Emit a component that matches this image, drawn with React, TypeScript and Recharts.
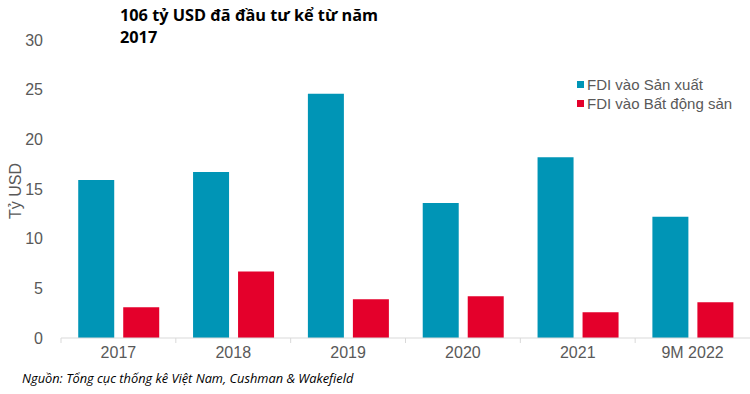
import { BarChart, Bar, XAxis, YAxis, Legend } from 'recharts';

const years = ['2017', '2018', '2019', '2020', '2021', '9M 2022'];
const sanXuat = [15.9, 16.7, 24.6, 13.6, 18.2, 12.2];
const batDongSan = [3.1, 6.7, 3.9, 4.2, 2.6, 3.6];
const yTicks = [0, 5, 10, 15, 20, 25, 30];

const series = [
  { key: 'sx', name: 'FDI vào Sản xuất', color: '#0095B6' },
  { key: 'bds', name: 'FDI vào Bất động sản', color: '#E4002B' },
];

const data = years.map((y, i) => ({ year: y, sx: sanXuat[i], bds: batDongSan[i] }));

const W = 750;
const H = 394;
const LEFT = 61;
const BAND = (W - LEFT) / years.length;
const FONT = '"Liberation Sans", Arial, sans-serif';

// category label + a small tick mark on the left boundary of each band
const XTick = (props: any) => {
  const { x, y, payload } = props;
  const bx = x - BAND / 2;
  return (
    <g>
      <line x1={bx} y1={y - 8} x2={bx} y2={y - 3} stroke="#d9d9d9" />
      <text x={x} y={y + 12} textAnchor="middle" fill="#595959" fontSize={16} fontFamily={FONT}>
        {payload.value}
      </text>
    </g>
  );
};

const LegendBox = () => (
  <div style={{ fontFamily: FONT, fontSize: 15, lineHeight: '19px', color: '#595959' }}>
    {series.map(s => (
      <div key={s.key} style={{ display: 'flex', alignItems: 'center', whiteSpace: 'nowrap' }}>
        <span style={{ display: 'inline-block', width: 7, height: 7, background: s.color, marginRight: 3 }} />
        {s.name}
      </div>
    ))}
  </div>
);

export default function App() {
  return (
    <div style={{ position: 'absolute', left: 0, top: 0, width: W, height: H, background: '#fff' }}>
      <div style={{
        position: 'absolute', left: 120, top: 4, fontFamily: '"Open Sans", sans-serif',
        fontWeight: 700, fontSize: 16.3, lineHeight: '22px', color: '#000', width: 300,
      }}>
        106 tỷ USD đã đầu tư kể từ năm<br />2017
      </div>
      <BarChart width={W} height={H} data={data}
        margin={{ top: 40, right: 0, left: 21, bottom: 26 }}
        barCategoryGap="15%" barGap={9}>
        <XAxis dataKey="year" height={30} axisLine={{ stroke: '#d9d9d9' }} tickLine={false}
          tick={<XTick />} interval={0} />
        <YAxis domain={[0, 30]} ticks={yTicks} width={40} axisLine={false} tickLine={false}
          tick={{ fill: '#595959', fontSize: 16, fontFamily: FONT }} tickMargin={12}
          label={{ value: 'Tỷ USD', angle: -90, position: 'insideLeft', offset: -6, dy: 30,
            style: { fill: '#595959', fontSize: 16, fontFamily: FONT } }} />
        <Legend layout="vertical" align="center" verticalAlign="middle" content={<LegendBox />}
          wrapperStyle={{ position: 'absolute', top: 75, left: 577, width: 180 }} />
        {series.map(s => (
          <Bar key={s.key} dataKey={s.key} name={s.name} fill={s.color} isAnimationActive={false} />
        ))}
      </BarChart>
      <div style={{
        position: 'absolute', left: 22, top: 369, fontFamily: '"Open Sans", sans-serif',
        fontStyle: 'italic', fontSize: 12.8, color: '#000',
      }}>
        Nguồn: Tổng cục thống kê Việt Nam, Cushman &amp; Wakefield
      </div>
    </div>
  );
}
